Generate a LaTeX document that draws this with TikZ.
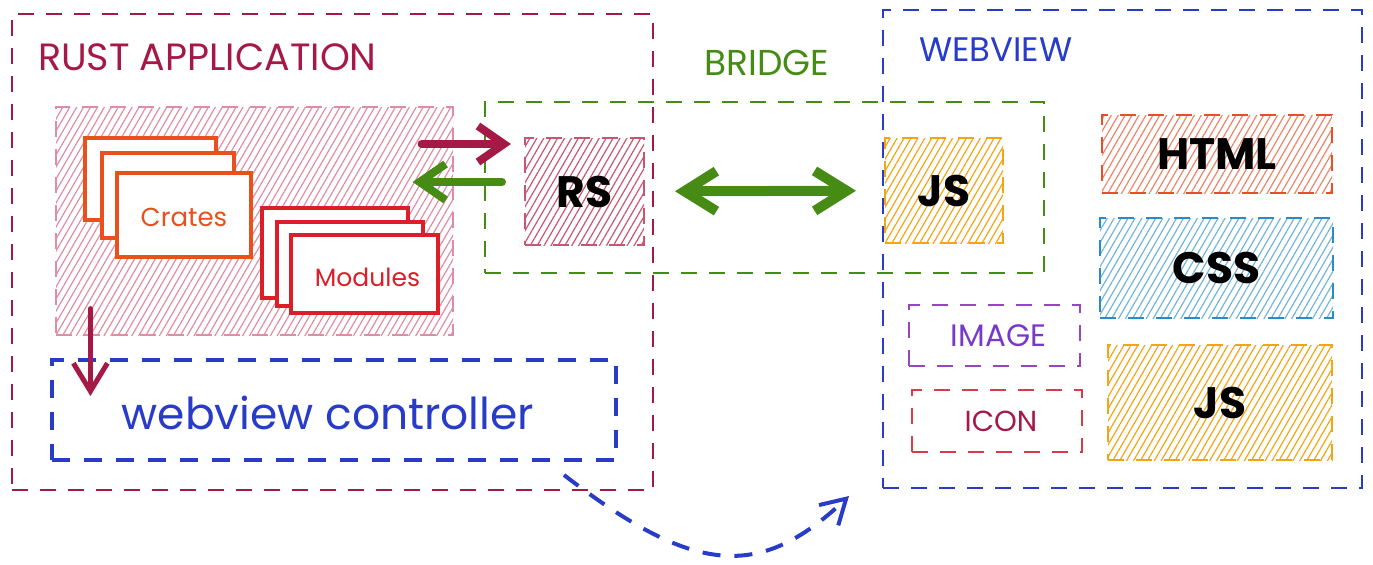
\documentclass[tikz,border=0pt]{standalone}
\usepackage{fontspec}
\setmainfont{Poppins}
\usetikzlibrary{arrows.meta, positioning, fit, calc, patterns.meta}
\definecolor{rustred}{RGB}{165,25,70}
\definecolor{rustpink}{RGB}{225,140,165}
\definecolor{rspink}{RGB}{200,85,115}
\definecolor{crateorange}{RGB}{232,80,30}
\definecolor{modred}{RGB}{220,30,40}
\definecolor{bridgegreen}{RGB}{70,140,20}
\definecolor{viewblue}{RGB}{40,60,200}
\definecolor{htmlred}{RGB}{230,80,40}
\definecolor{cssblue}{RGB}{40,140,200}
\definecolor{jsorange}{RGB}{245,165,20}
\definecolor{imgpurple}{RGB}{150,70,190}
\definecolor{iconred}{RGB}{215,60,75}
\newcommand{\fsz}[1]{\fontsize{#1}{#1}\selectfont}

\begin{document}
\begin{tikzpicture}[x=0.5pt, y=-0.5pt,
  frame/.style={draw, line width=1pt, dash pattern=on 8pt off 6pt, inner sep=0pt},
  hatch/.style={pattern={Lines[angle=60, distance=3pt, line width=0.6pt]}, pattern color=#1},
  card/.style={draw, fill=white, line width=1.6pt, inner sep=0pt},
  barbtip/.tip={Straight Barb[length=13pt, width=18pt]},
  bigbarb/.tip={Straight Barb[length=16pt, width=20pt]},
  tag/.style={font=\fsz{22}\bfseries, text=black}]
\useasboundingbox (0,0) rectangle (1373,564);

% rust side
\node[frame, draw=rustred, fit={(12,14) (653,490)}] (rustapp) {};
\node[text=rustred, font=\fsz{19}, anchor=west] (rusttitle) at (31,57) {RUST APPLICATION};
\node[frame, draw=rustpink, hatch=rustpink, fit={(56,107) (453,335)}] (rustcore) {};
\node[card, draw=crateorange, fit={(85,138) (216,220)}] (crate3) {};
\node[card, draw=crateorange, fit={(102,153) (234,238)}] (crate2) {};
\node[card, draw=crateorange, fit={(117,173) (251,257)}] (crate1) {};
\node[text=crateorange, font=\fsz{13}] (crates) at ($(crate1)+(0,-1pt)$) {Crates};
\node[card, draw=modred, fit={(262,208) (408,298)}] (module3) {};
\node[card, draw=modred, fit={(277,222) (423,306)}] (module2) {};
\node[card, draw=modred, fit={(291,235) (438,313)}] (module1) {};
\node[text=modred, font=\fsz{12.5}] (modules) at ($(module1)+(1.5pt,-1.5pt)$) {Modules};
\node[frame, draw=viewblue, line width=2pt, dash pattern=on 9pt off 7pt, fit={(52,360) (616,460)}] (ctrl) {};
\node[text=viewblue, font=\fsz{22}] (ctrltext) at ($(ctrl)+(-3pt,-1.5pt)$) {webview controller};

% bridge
\node[frame, draw=bridgegreen, fit={(485,102) (1044,273)}] (bridge) {};
\node[text=bridgegreen, font=\fsz{18}] (bridgetitle) at (767,63) {BRIDGE};
\node[frame, draw=rspink, hatch=rspink, fit={(525,138) (644,245)}] (rs) {};
\node[tag] (rstext) at (rs) {RS};
\node[frame, draw=jsorange, hatch=jsorange, fit={(885,138) (1003,243)}] (js) {};
\node[tag] (jstext) at (js) {JS};

% webview side
\node[frame, draw=viewblue, fit={(883,10) (1362,488)}] (webview) {};
\node[text=viewblue, font=\fsz{17}, anchor=west] (viewtitle) at (912,50) {WEBVIEW};
\node[frame, draw=htmlred, hatch=htmlred!70, fit={(1102,115) (1332,193)}] (html) {};
\node[tag] (htmltext) at (html) {HTML};
\node[frame, draw=cssblue, hatch=cssblue!65, fit={(1100,218) (1333,318)}] (css) {};
\node[tag] (csstext) at (css) {CSS};
\node[frame, draw=jsorange, hatch=jsorange, fit={(1108,345) (1332,460)}] (jsview) {};
\node[tag] (jsviewtext) at (jsview) {JS};
\node[frame, draw=imgpurple, fit={(909,305) (1080,366)}] (image) {};
\node[text=imgpurple!80!blue, font=\fsz{15.5}] (imagetext) at ($(image)+(2pt,0)$) {IMAGE};
\node[frame, draw=iconred, fit={(912,390) (1082,452)}] (icon) {};
\node[text=rustred, font=\fsz{14.5}] (icontext) at ($(icon)+(2pt,0)$) {ICON};

% connectors
\draw[line width=4pt, line cap=round, rustred, -{barbtip}]
  ($(rustcore.east |- rs.north west)+(-16pt,-3.5pt)$) -- ($(rs.north west)+(-6.5pt,-3.5pt)$);
\draw[line width=4pt, line cap=round, bridgegreen, -{barbtip}]
  ($(rs.west)+(-11pt,4.75pt)$) -- ($(rustcore.east |- rs.west)+(-20.5pt,4.75pt)$);
\draw[line width=5pt, line cap=round, bridgegreen, {bigbarb}-{bigbarb}, shorten <=15pt, shorten >=14pt] (rs) -- (js);
\draw[line width=2.5pt, line cap=round, rustred, -{Straight Barb[length=14pt, width=17pt]}]
  ($(rustcore.south west)+(17.5pt,13.5pt)$) -- ($(rustcore.south west |- ctrl.north)+(17.5pt,-19pt)$);
\draw[line width=2pt, viewblue, dash pattern=on 9pt off 7pt, -{Straight Barb[length=12pt, width=14pt]}]
  ($(ctrl.south east)+(-27pt,-6.5pt)$) .. controls +(65pt,-50pt) and +(-45pt,-42.5pt) .. ($(webview.south west)+(-16.5pt,-3.5pt)$);
\end{tikzpicture}
\end{document}
